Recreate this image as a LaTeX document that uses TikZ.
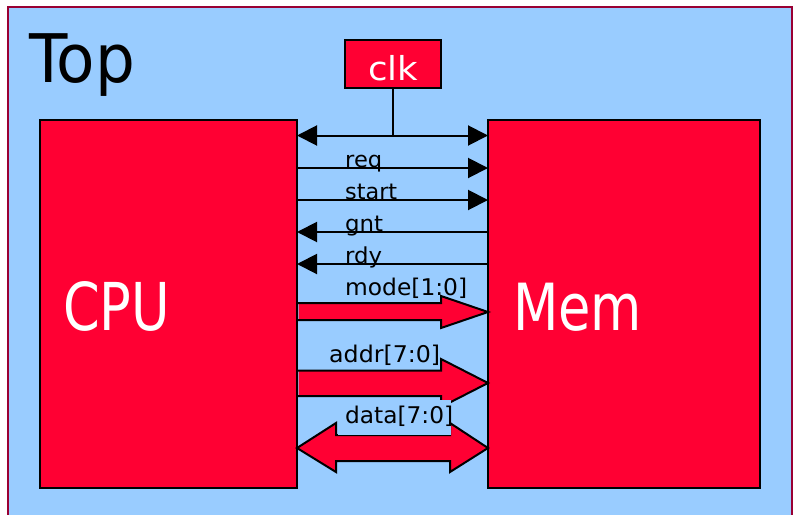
\documentclass[tikz,border=0pt]{standalone}
\usepackage{fontspec}
\setmainfont{DejaVu Sans}
\usepackage{graphicx}
\usetikzlibrary{arrows.meta}
\definecolor{bgblue}{HTML}{99CCFF}
\definecolor{pred}{HTML}{FF0033}
\definecolor{framec}{HTML}{990033}
\newcommand{\fitw}[2]{\resizebox{#1}{\height}{#2}}
\begin{document}
\begin{tikzpicture}[x=1pt,y=-1pt,
  blk/.style={draw=black,line width=2.5pt,fill=pred,inner sep=0pt,outer sep=0pt,anchor=north west},
  sig/.style={line width=2pt},
  tipr/.style={-{Triangle[length=20pt,width=20pt]}},
  tipl/.style={{Triangle[length=20pt,width=20pt]}-},
  tipb/.style={{Triangle[length=20pt,width=20pt]}-{Triangle[length=20pt,width=20pt]}},
  lab/.style={inner sep=0pt,anchor=base west,font=\fontsize{22}{26}\selectfont},
  buslab/.style={inner sep=0pt,anchor=base west,font=\fontsize{23}{27}\selectfont},
  bigw/.style={inner sep=0pt,anchor=base west,text=white},
  bus/.style={draw=black,line width=2pt,line join=miter},
  busfill/.style={fill=pred}]
\useasboundingbox (0,0) rectangle (794,514);
\fill[white] (0,0) rectangle (794,514);
\draw[framec,line width=2pt,fill=bgblue] (8,7) rectangle (792,530);
\node[inner sep=0pt,anchor=base west,font=\fontsize{67}{70}\selectfont] (top) at (29,82) {\fitw{106pt}{Top}};
% blocks
\node[blk,minimum width=257pt,minimum height=368pt] (cpu) at (40,120) {};
\node[blk,minimum width=272pt,minimum height=368pt] (mem) at (488,120) {};
\node[blk,minimum width=96pt,minimum height=48pt] (clk) at (345,40) {};
\node[bigw,font=\fontsize{33}{36}\selectfont] (clkt) at (368,80) {\fitw{50pt}{clk}};
\node[bigw,font=\fontsize{66}{70}\selectfont] (cput) at (63,330) {\fitw{107pt}{CPU}};
\node[bigw,font=\fontsize{65}{70}\selectfont] (memt) at (513,330) {\fitw{129pt}{Mem}};
% rows
\coordinate (y0) at (0,135.5);
\coordinate (y1) at (0,168);
\coordinate (y2) at (0,200);
\coordinate (y3) at (0,232);
\coordinate (y4) at (0,264);
\draw[sig] (clk.south) -- (clk.south |- y0);
\draw[sig,tipb] (cpu.east |- y0) -- (mem.west |- y0);
\draw[sig,tipr] (cpu.east |- y1) -- (mem.west |- y1);
\draw[sig,tipr] (cpu.east |- y2) -- (mem.west |- y2);
\draw[sig,tipl] (cpu.east |- y3) -- (mem.west |- y3);
\draw[sig,tipl] (cpu.east |- y4) -- (mem.west |- y4);
\node[lab] (lreq) at (345,167) {\fitw{37pt}{req}};
\node[lab] (lstart) at (345,199) {\fitw{52pt}{start}};
\node[lab] (lgnt) at (345,231) {\fitw{38pt}{gnt}};
\node[lab] (lrdy) at (345,263) {\fitw{37pt}{rdy}};
% buses
\fill[busfill] (298.5,303) -- (441,303) -- (441,296) -- (488,312) -- (441,328) -- (441,320) -- (298.5,320) -- cycle;
\draw[bus] (297,303) -- (441,303) -- (441,296) -- (488,312) -- (441,328) -- (441,320) -- (297,320);
\fill[busfill] (298.5,370.5) -- (441,370.5) -- (441,359) -- (488,383) -- (441,407) -- (441,396) -- (298.5,396) -- cycle;
\draw[bus] (297,370.5) -- (441,370.5) -- (441,359) -- (488,383) -- (441,407) -- (441,396) -- (297,396);
\draw[bus,busfill] (297,448) -- (336,423) -- (336,435) -- (450,435) -- (450,423) -- (488,448) -- (450,472) -- (450,461) -- (336,461) -- (336,472) -- cycle;
\node[buslab] (lmode) at (345,295) {\fitw{122pt}{mode[1:0]}};
\node[buslab] (laddr) at (329,362) {\fitw{111pt}{addr[7:0]}};
\fill[bgblue] (338,400) rectangle (451,434.5);
\node[buslab] (ldata) at (345,423) {\fitw{108pt}{data[7:0]}};
\end{tikzpicture}
\end{document}
